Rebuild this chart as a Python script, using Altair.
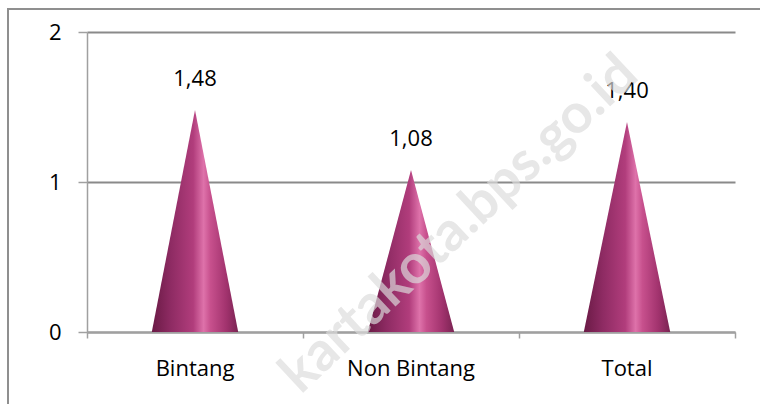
import altair as alt
import pandas as pd

# Chart data
categories = ["Bintang", "Non Bintang", "Total"]
values = [1.48, 1.08, 1.40]
y_ticks = [0, 1, 2]
x_bounds = [0, 1, 2, 3]
watermark_text = "kartakota.bps.go.id"

HALF_BASE = 0.2  # half the cone base, as a share of one category slot
PLOT_W, PLOT_H = 648, 300
PAD = {"left": 87, "top": 32, "right": 25, "bottom": 72}

# Each cone is a triangle: two base corners on zero and the apex at the value
cone_rows = []
for i, (cat, val) in enumerate(zip(categories, values)):
    mid = i + 0.5
    cone_rows += [
        {"cat": cat, "x": mid - HALF_BASE, "y": 0.0},
        {"cat": cat, "x": mid, "y": val},
        {"cat": cat, "x": mid + HALF_BASE, "y": 0.0},
    ]
cones = pd.DataFrame(cone_rows)
tops = pd.DataFrame({"cat": categories,
                     "x": [i + 0.5 for i in range(len(categories))],
                     "y": values})

GRID = "#8a8a8a"
AXIS = "#a0a0a0"
FONT = "Open Sans"

x_enc = alt.X("x:Q", title=None,
              scale=alt.Scale(domain=[0, 3], nice=False, zero=False),
              axis=alt.Axis(values=x_bounds, labels=False, grid=False,
                            ticks=True, tickSize=6, tickColor=AXIS, tickWidth=1.5,
                            domainColor=AXIS, domainWidth=2))
y_enc = alt.Y("y:Q", title=None,
              scale=alt.Scale(domain=[0, 2], nice=False),
              axis=alt.Axis(values=y_ticks, grid=True, gridColor=GRID, gridWidth=2,
                            tickSize=9, tickColor=AXIS, tickWidth=1.5,
                            domainColor=AXIS, domainWidth=1.5, labelOverlap=False,
                            labelExpr="format(datum.value, 'd')",
                            labelFont=FONT, labelFontSize=22, labelColor="#000000",
                            labelPadding=17))

shade = alt.Gradient(
    gradient="linear", x1=0, x2=1, y1=0, y2=0,
    stops=[
        alt.GradientStop(offset=0.0, color="#6a1a45"),
        alt.GradientStop(offset=0.22, color="#8e2b63"),
        alt.GradientStop(offset=0.48, color="#b13d7c"),
        alt.GradientStop(offset=0.6, color="#de72aa"),
        alt.GradientStop(offset=0.68, color="#c7508d"),
        alt.GradientStop(offset=0.86, color="#a2336e"),
        alt.GradientStop(offset=1.0, color="#7a2352"),
    ],
)

frame = alt.Chart(pd.DataFrame({"k": [0]})).mark_rect(
    fill=None, stroke="#8f8f8f", strokeWidth=2
).encode(x=alt.value(8 - PAD["left"]), x2=alt.value(PLOT_W + 60),
         y=alt.value(9 - PAD["top"]), y2=alt.value(PLOT_H + 90))

# One area layer per cone so each gets its own shading bounds
cone_layers = [
    alt.Chart(cones).transform_filter(alt.datum.cat == cat)
    .mark_area(color=shade, interpolate="linear")
    .encode(x=x_enc, y=y_enc)
    for cat in categories
]

value_labels = alt.Chart(tops).transform_calculate(
    txt="replace(format(datum.y, '.2f'), '.', ',')"
).mark_text(font=FONT, fontSize=22, color="#000000", baseline="alphabetic", dy=-24).encode(
    x=x_enc, y=y_enc, text="txt:N"
)

cat_labels = alt.Chart(tops).mark_text(
    font=FONT, fontSize=22, color="#000000", baseline="alphabetic"
).encode(x=x_enc, y=alt.value(376 - PAD["top"]), text="cat:N")

mark_wm = alt.Chart(pd.DataFrame({"t": [watermark_text]})).mark_text(
    font="Lato", fontWeight="bold", fontSize=55, angle=317,
    color="#dcdcdc", opacity=0.68, align="center", baseline="middle"
).encode(x=alt.value(459 - PAD["left"]), y=alt.value(224 - PAD["top"]), text="t:N")

chart = alt.layer(frame, *cone_layers, value_labels, cat_labels, mark_wm).properties(
    width=PLOT_W, height=PLOT_H,
    autosize=alt.AutoSizeParams(type="none"),
    padding=PAD,
    background="#ffffff",
).configure_view(stroke=None)

chart.save("out.html", embed_options={"renderer": "svg", "actions": False})
